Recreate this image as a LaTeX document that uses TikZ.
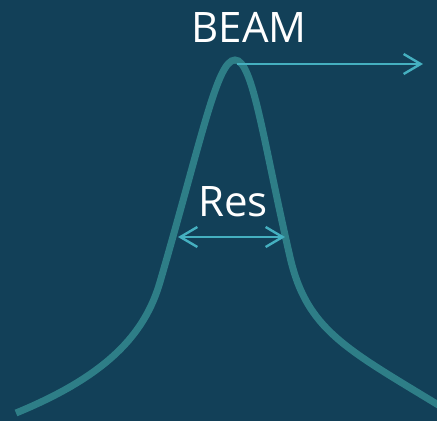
\documentclass[tikz,border=0pt]{standalone}
\usepackage{fontspec}
\setmainfont{Open Sans}
\usetikzlibrary{arrows.meta}
\definecolor{bg}{HTML}{124058}
\definecolor{curve}{HTML}{2E7E87}
\definecolor{arr}{HTML}{45B0C0}
\begin{document}
\begin{tikzpicture}[x=1pt,y=-1pt,
  lbl/.style={text=white,font=\fontsize{42}{46}\selectfont,inner sep=0pt},
  arrline/.style={draw=arr,line width=2.4pt,-{Straight Barb[length=17pt,width=20pt,line width=2.4pt]}},
  dblarr/.style={draw=arr,line width=2.4pt,{Straight Barb[length=17pt,width=20pt,line width=2.4pt]}-{Straight Barb[length=17pt,width=20pt,line width=2.4pt]}}]
\fill[bg] (0,0) rectangle (437,421);
\useasboundingbox (0,0) rectangle (437,421);
\draw[curve,line width=7pt,line cap=butt] (16,413)
  .. controls (106,376) and (144.6,335) .. (160,282)
  .. controls (202,138) and (217,60) .. (235,60)
  .. controls (253,60) and (263,140) .. (290,257)
  .. controls (306.8,330) and (346,348.7) .. (440,406);
\coordinate (peak) at (237,64);
\coordinate (beamend) at (423,64);
\coordinate (resl) at (178,237);
\coordinate (resr) at (285,237);
\node[lbl] (beam) at (249,27) {BEAM};
\node[lbl] (res) at (233,202) {Res};
\draw[arrline] (peak) -- (beamend);
\draw[dblarr] (resl) -- (resr);
\end{tikzpicture}
\end{document}
